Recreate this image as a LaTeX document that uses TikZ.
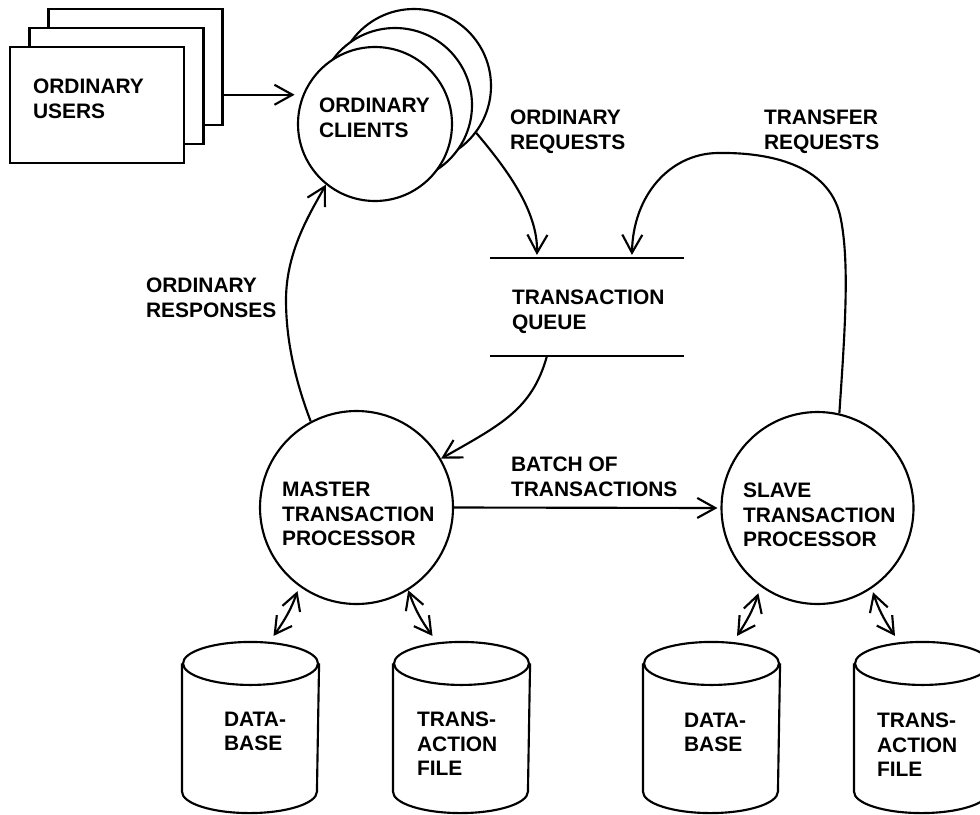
\documentclass[tikz,border=0pt]{standalone}
\usepackage{fontspec}
\setmainfont{Liberation Sans}
\usetikzlibrary{arrows.meta,calc}
\newdimen\pxu \pxu=0.75pt
\begin{document}
\begin{tikzpicture}[x=0.75pt,y=-0.75pt,line width=1.6pt,
  lbl/.style={font=\bfseries\fontsize{15.7}{18.3}\selectfont,align=left,inner sep=0pt,anchor=north west},
  arr/.style={-{Straight Barb[length=13.5pt,width=15pt]}},
  darr/.style={{Straight Barb[length=12.5pt,width=14pt]}-{Straight Barb[length=12.5pt,width=14pt]}},
  userbox/.style={draw,fill=white,minimum width=174\pxu,minimum height=116\pxu,inner sep=0pt},
  clientc/.style={circle,draw,fill=white,minimum size=154\pxu,inner sep=0pt},
  procc/.style={circle,draw,fill=white,minimum size=193\pxu,inner sep=0pt},
  cylbox/.style={minimum width=135\pxu,minimum height=169\pxu,inner sep=0pt},
  queuebox/.style={minimum width=192\pxu,minimum height=96\pxu,inner sep=0pt}]
\useasboundingbox (0,0) rectangle (980,814);
\clip (0,0) rectangle (980,814);

% ordinary users (stacked boxes)
\node[userbox] (ub) at (135.5,67) {};
\node[userbox] (um) at (116.5,86) {};
\node[userbox] (uf) at (97,105) {};
\node[lbl] (ut) at (32,78) {ORDINARY\\USERS};

% ordinary clients (stacked circles)
\node[clientc] (cb) at (414,86) {};
\node[clientc] (cm) at (395,105) {};
\node[clientc] (cf) at (375,124) {};
\node[lbl] (ct) at (318,97) {ORDINARY\\CLIENTS};

% transaction queue
\node[queuebox] (q) at (587,307) {};
\draw (q.north west) -- (q.north east);
\draw (q.south west) -- (q.south east);
\node[lbl] (qt) at (511,289) {TRANSACTION\\QUEUE};

% processors
\node[procc] (m) at (356.5,507.5) {};
\node[lbl] (mt) at (281,481) {MASTER\\TRANSACTION\\PROCESSOR};
\node[procc,minimum size=192\pxu] (s) at (817.5,508) {};
\node[lbl] (st) at (742,482) {SLAVE\\TRANSACTION\\PROCESSOR};

% cylinders
\node[cylbox] (dbm) at (250.5,727.5) {};
\node[cylbox] (tfm) at (461.5,727.5) {};
\node[cylbox] (dbs) at (711.5,727.5) {};
\node[cylbox] (tfs) at (922.5,727.5) {};
\foreach \n in {dbm,tfm,dbs,tfs}{
  \draw[fill=white] ($(\n.north west)+(0,21.5)$) -- ($(\n.south west)+(0,-21.5)$)
     arc[start angle=180,end angle=360,x radius=50.625pt,y radius=16.125pt]
     -- ($(\n.north east)+(0,21.5)$);
  \draw ($(\n.north)+(0,21.5)$) ellipse[x radius=50.625pt,y radius=16.125pt];
}
\node[lbl] (dbmt) at (223,711) {DATA-\\BASE};
\node[lbl] (tfmt) at (416,711) {TRANS-\\ACTION\\FILE};
\node[lbl] (dbst) at (683,712) {DATA-\\BASE};
\node[lbl] (tfst) at (876,712) {TRANS-\\ACTION\\FILE};

% flow labels
\node[lbl] (orq) at (509,109) {ORDINARY\\REQUESTS};
\node[lbl] (trq) at (763,109) {TRANSFER\\REQUESTS};
\node[lbl] (ors) at (145,277) {ORDINARY\\RESPONSES};
\node[lbl] (bat) at (510,456) {BATCH OF\\TRANSACTIONS};

% connectors
\draw[arr,shorten >=8\pxu] (ub.east |- cf.158) -- (cf.158);
\draw[arr] (cb.-37) .. controls (505,167) and (538,210) .. ($(q.north west)+(47,-3)$);
\draw[arr] (s.77) .. controls (845,330) and (850,260) .. (840,215)
   .. controls (828,165) and (770,152) .. (717,153)
   .. controls (670,154) and (633,195) .. ($(q.north west)+(142,-3)$);
\draw[arr] ($(q.south west)+(57,0)$) .. controls (532,410) and (500,425) .. (m.30);
\draw[arr] (m.118) .. controls (295,380) and (286,340) .. (286,300)
   .. controls (286,250) and (312,210) .. (cf.231);
\draw[arr,shorten >=3\pxu] (m.east) -- (s.west);

\draw[darr,shorten <=5\pxu] (m.234) to[bend left=8] ($(dbm.north)+(23,-6)$);
\draw[darr] (m.-58) to[bend right=8] ($(tfm.north)+(-29,-6)$);
\draw[darr,shorten <=7\pxu] (s.234) to[bend left=8] ($(dbs.north)+(25.5,-6)$);
\draw[darr,shorten <=4\pxu] (s.-56.5) to[bend right=8] ($(tfs.north)+(-27.5,-6)$);
\end{tikzpicture}
\end{document}
